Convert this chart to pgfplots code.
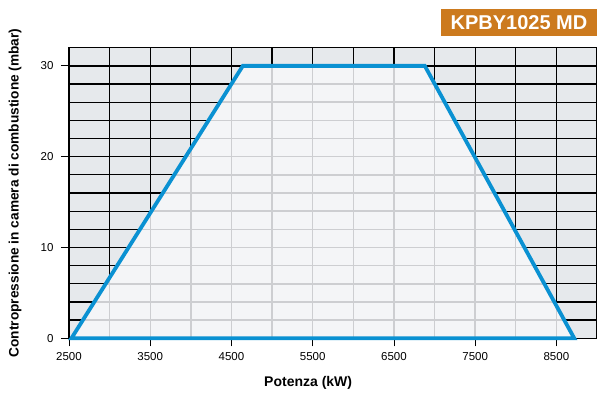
\documentclass[border=0pt]{standalone}
\usepackage{pgfplots}
\pgfplotsset{compat=1.18}
\usepackage{fontspec}
\setmainfont{Liberation Sans}
\definecolor{bgout}{HTML}{E6E9EC}
\definecolor{bgin}{HTML}{F4F5F7}
\definecolor{gridin}{HTML}{CDCED1}
\definecolor{lineblue}{HTML}{0A91D2}
\definecolor{boxorange}{HTML}{CC7A1E}
\begin{document}
\begin{tikzpicture}[x=1pt,y=1pt]
\useasboundingbox (-69,-57.7) rectangle (528,338.3);
\begin{axis}[
  at={(0,0)}, anchor=south west,
  scale only axis, width=528pt, height=290.6pt,
  xmin=2500, xmax=9000, ymin=0, ymax=32,
  clip=false,
  xtick={2500,3500,...,8500}, ytick={0,10,20,30},
  minor xtick={3000,3500,...,9000},
  minor ytick={2,4,...,32},
  grid=both,
  major grid style={black, line width=1.3pt},
  minor grid style={black, line width=1.3pt},
  tick align=outside, xtick pos=bottom, ytick pos=left,
  major tick length=8pt, minor tick length=0pt,
  tick style={black, line width=0.8pt},
  axis line style={black, line width=1.3pt},
  axis background/.style={fill=bgout},
  /pgf/number format/assume math mode=true,
  /pgf/number format/set thousands separator={},
  ticklabel style={font=\fontsize{11.5}{13}\selectfont},
  xticklabel style={yshift=-3pt},
  yticklabel style={xshift=-4pt},
  xlabel={Potenza (kW)},
  ylabel={Contropressione in camera di combustione (mbar)},
  xlabel style={at={(axis description cs:0.453,-0.155)}, anchor=center, font=\bfseries\fontsize{14}{16}\selectfont},
  ylabel style={at={(axis description cs:-0.1023,0.5)}, anchor=center, font=\bfseries\fontsize{13.7}{16}\selectfont},
]
\addplot[fill=bgin, draw=none] coordinates {(2530,0) (4640,30) (6880,30) (8720,0)} -- cycle;
\begin{scope}
\clip (axis cs:2530,0) -- (axis cs:4640,30) -- (axis cs:6880,30) -- (axis cs:8720,0) -- cycle;
\pgfplotsinvokeforeach{3000,3500,...,9000}{\draw[gridin, line width=1.4pt] (axis cs:#1,0) -- (axis cs:#1,32);}
\pgfplotsinvokeforeach{2,4,...,30}{\draw[gridin, line width=1.4pt] (axis cs:2500,#1) -- (axis cs:9000,#1);}
\end{scope}
\addplot[lineblue, line width=3.8pt, line join=miter] coordinates {(2530,0) (4640,30) (6880,30) (8720,0)} -- cycle;
\end{axis}
\node[fill=boxorange, text=white, font=\bfseries\fontsize{20}{24}\selectfont, minimum width=156pt, minimum height=27pt, inner sep=0pt] at (450,315.8) {KPBY1025 MD};
\end{tikzpicture}
\end{document}
